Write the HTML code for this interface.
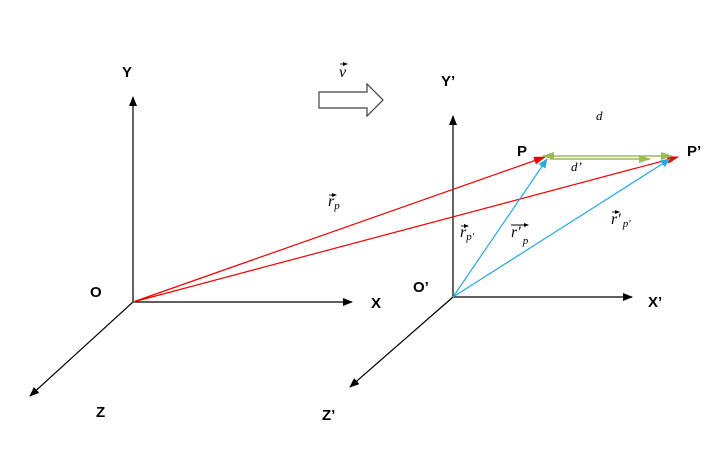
<!DOCTYPE html>
<html><head><style>body{margin:0;background:#fff}svg{display:block}</style></head><body>
<svg width="714" height="465" xmlns="http://www.w3.org/2000/svg" font-family="Liberation Sans, sans-serif">
<defs>
<marker id="k" markerWidth="10" markerHeight="8" refX="9" refY="4" orient="auto" markerUnits="userSpaceOnUse"><path d="M0,0L10,4L0,8z" fill="#000"/></marker>
<marker id="r" markerWidth="12" markerHeight="8" refX="11" refY="4" orient="auto" markerUnits="userSpaceOnUse"><path d="M0,0L12,4L0,8z" fill="#e00"/></marker>
<marker id="b" markerWidth="10" markerHeight="8" refX="9" refY="4" orient="auto" markerUnits="userSpaceOnUse"><path d="M0,0L10,4L0,8z" fill="#29a8e0"/></marker>
<marker id="g" markerWidth="12" markerHeight="8" refX="11" refY="4" orient="auto-start-reverse" markerUnits="userSpaceOnUse"><path d="M0,0L12,4L0,8z" fill="#9bbb59"/></marker>
<marker id="v" markerWidth="5" markerHeight="4" refX="4" refY="2" orient="auto" markerUnits="userSpaceOnUse"><path d="M0,0L5,2L0,4z" fill="#000"/></marker>
</defs>
<g stroke="#000" stroke-width="1.2" fill="none">
<line x1="133" y1="302" x2="133" y2="97" marker-end="url(#k)"/>
<line x1="133" y1="302" x2="352" y2="302" marker-end="url(#k)"/>
<line x1="133" y1="302" x2="30" y2="396" marker-end="url(#k)"/>
<line x1="453" y1="297" x2="453" y2="116" marker-end="url(#k)"/>
<line x1="453" y1="297" x2="632" y2="297" marker-end="url(#k)"/>
<line x1="453" y1="297" x2="350" y2="387" marker-end="url(#k)"/>
<path d="M319,92H367V84L383,100L367,116V108H319Z" stroke="#444"/>
</g>
<g stroke="#e00" stroke-width="1.2">
<line x1="133" y1="302" x2="545" y2="157" marker-end="url(#r)"/>
<line x1="133" y1="302" x2="678" y2="157" marker-end="url(#r)"/>
</g>
<g stroke="#29a8e0" stroke-width="1.2">
<line x1="453" y1="297" x2="547" y2="159" marker-end="url(#b)"/>
<line x1="453" y1="297" x2="670" y2="159" marker-end="url(#b)"/>
</g>
<g stroke="#9bbb59" stroke-width="1.5">
<line x1="543" y1="156" x2="672" y2="156" marker-start="url(#g)" marker-end="url(#g)"/>
<line x1="550" y1="159" x2="650" y2="159" marker-end="url(#g)"/>
</g>
<g font-size="15" font-weight="bold">
<text x="122" y="77">Y</text><text x="90" y="297">O</text><text x="371" y="308">X</text><text x="96" y="417">Z</text>
<text x="441" y="86">Y’</text><text x="413" y="292">O’</text><text x="648" y="307">X’</text><text x="322" y="420">Z’</text>
<text x="517" y="156">P</text><text x="687" y="156">P’</text>
</g>
<g stroke="#000" stroke-width="0.9" fill="none">
<line x1="340" y1="64" x2="347" y2="64" marker-end="url(#v)"/>
<line x1="329" y1="195" x2="336" y2="195" marker-end="url(#v)"/>
<line x1="461" y1="226" x2="468" y2="226" marker-end="url(#v)"/>
<line x1="511" y1="225" x2="528" y2="225" marker-end="url(#v)"/>
<line x1="612" y1="212" x2="619" y2="212" marker-end="url(#v)"/>
</g>
<g font-family="Liberation Serif, serif" font-style="italic" font-size="16">
<text x="339" y="77">v</text>
<text x="596" y="120" font-size="13">d</text>
<text x="571" y="171" font-size="13">d’</text>
<text x="328" y="206">r<tspan font-size="11" dy="3">p</tspan></text>
<text x="460" y="237">r<tspan font-size="11" dy="3">p′</tspan></text>
<text x="511" y="237">r′<tspan font-size="11" dy="7" dx="2">p</tspan></text>
<text x="611" y="224">r′<tspan font-size="11" dy="3" dx="2">p′</tspan></text>
</g>
</svg>
</body></html>
